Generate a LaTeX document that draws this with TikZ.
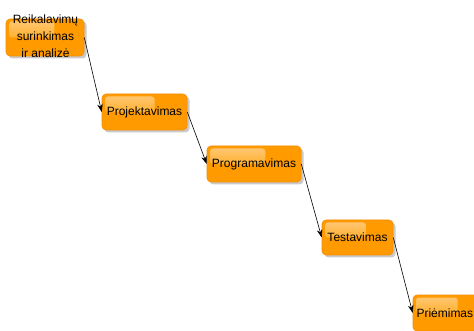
\documentclass[tikz,border=0pt]{standalone}
\usepackage{fontspec}
\setmainfont{Liberation Sans}
\usetikzlibrary{shadows,calc,arrows.meta}

\definecolor{boxfill}{HTML}{FF9A00}
\definecolor{boxedge}{HTML}{F58C00}
\definecolor{hltop}{HTML}{FFC670}
\definecolor{hlbot}{HTML}{FFB030}

\tikzset{
  phase/.style={
    draw=boxedge, line width=0.6pt, fill=boxfill, rounded corners=4pt,
    inner sep=0pt, font=\fontsize{12}{17}\selectfont,
    drop shadow={shadow xshift=2.5pt, shadow yshift=-2.5pt, opacity=0.35, fill=black!60},
    path picture={
      \coordinate (hlA) at ($(path picture bounding box.north west)!0.62!(path picture bounding box.north east)$);
      \coordinate (hlB) at ($(path picture bounding box.north west)!0.5!(path picture bounding box.south west)$);
      \fill[top color=hltop, bottom color=hlbot, rounded corners=3pt]
        ([xshift=3pt,yshift=-2.5pt]path picture bounding box.north west)
        rectangle (hlA |- hlB);
    }
  },
  flow/.style={draw=black, line width=0.6pt, -{Stealth[length=8pt,width=5.5pt]}},
  lbl/.style={font=\fontsize{12}{17}\selectfont, align=center, inner sep=0pt}
}

\begin{document}
\begin{tikzpicture}[x=1pt,y=-1pt]
  \useasboundingbox (0,0) rectangle (474,331);
  \begin{scope}
    \clip (0,0) rectangle (474,331);

    % phase boxes
    \node[phase, minimum width=78pt, minimum height=37pt] (req) at (45,37.5) {};
    \node[lbl] (reqtxt) at (45.5,36) {Reikalavimų\\surinkimas\\ir analizė};
    \node[phase, minimum width=85pt, minimum height=36pt] (design) at (144.5,112) {Projektavimas};
    \node[phase, minimum width=94pt, minimum height=36pt] (code) at (254,164) {Programavimas};
    \node[phase, minimum width=71pt, minimum height=35pt] (test) at (357.5,237.5) {Testavimas};
    \node[phase, minimum width=72pt, minimum height=36pt] (accept) at (449,313) {};
    \node[lbl, anchor=west] (accepttxt) at (416.3,313) {Priėmimas};

    % transitions between phases
    \draw[flow] (req.east) -- (design.west);
    \draw[flow] (design.east) -- (code.west);
    \draw[flow] (code.east) -- (test.west);
    \draw[flow] (test.east) -- (accept.west);
  \end{scope}
\end{tikzpicture}
\end{document}
